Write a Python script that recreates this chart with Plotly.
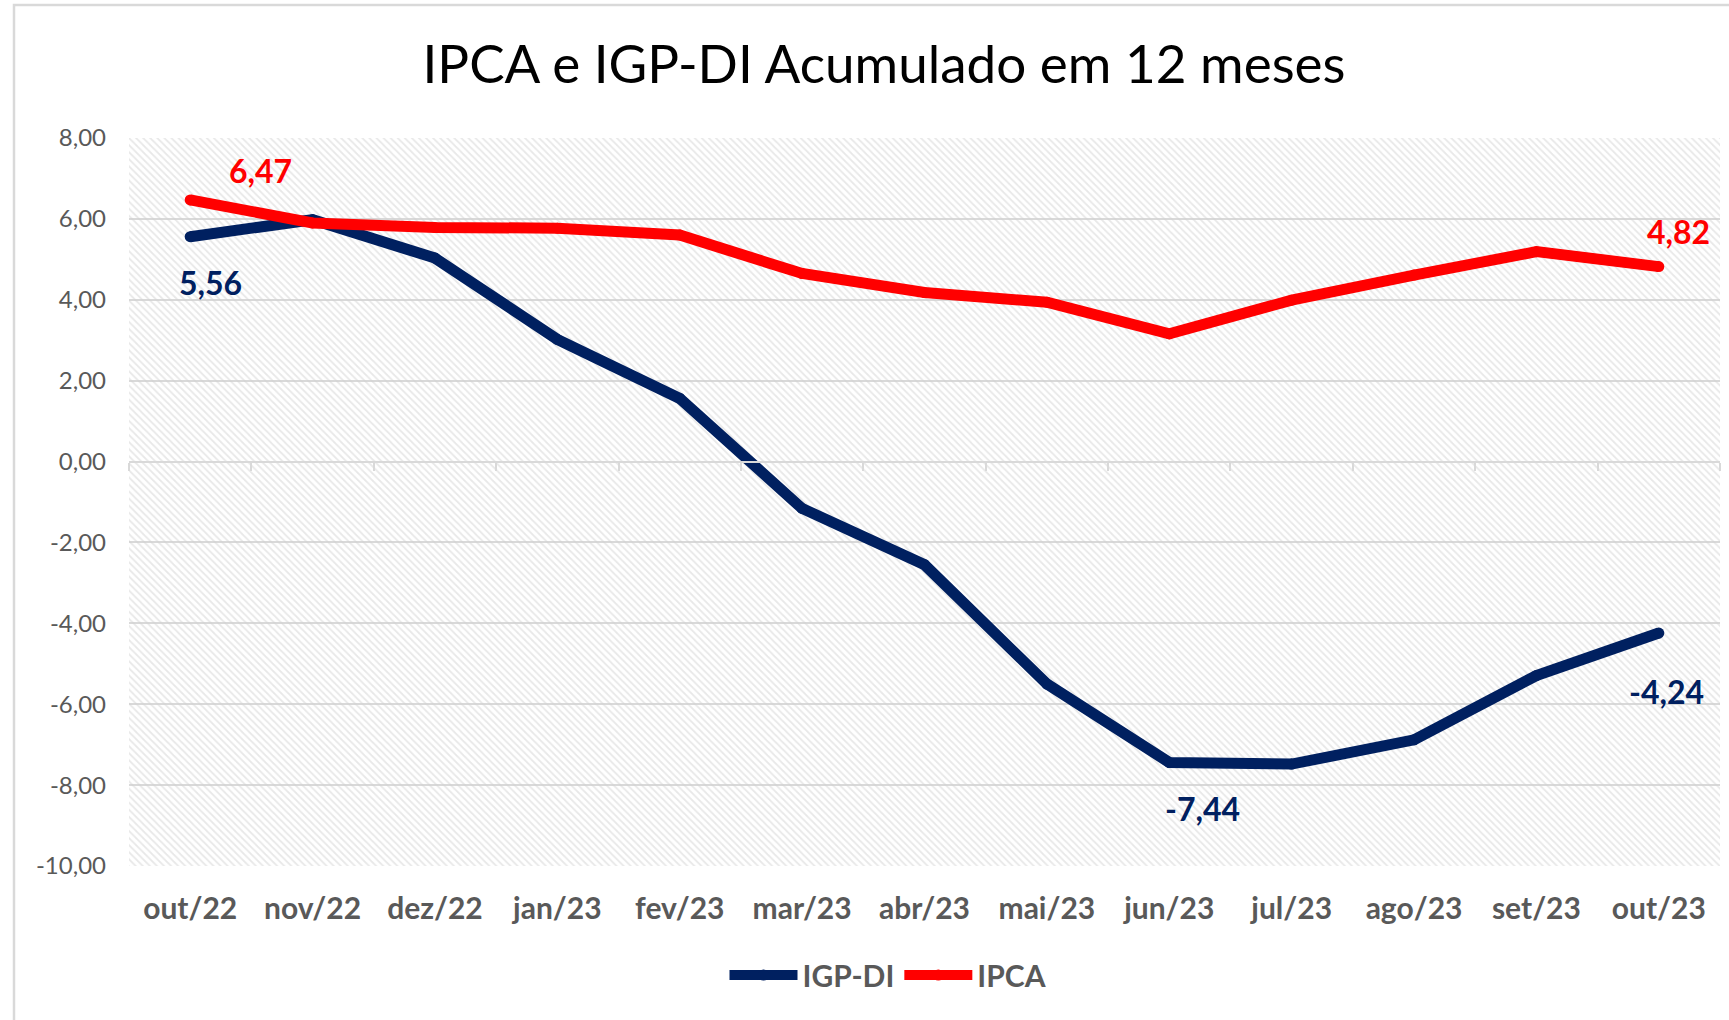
import plotly.graph_objects as go

# ---- data -------------------------------------------------------------
months = ["out/22", "nov/22", "dez/22", "jan/23", "fev/23", "mar/23", "abr/23",
          "mai/23", "jun/23", "jul/23", "ago/23", "set/23", "out/23"]
igp_di = [5.56, 5.98, 5.03, 3.02, 1.56, -1.16, -2.55, -5.50, -7.44, -7.48, -6.88, -5.29, -4.24]
ipca = [6.47, 5.90, 5.79, 5.77, 5.60, 4.65, 4.18, 3.94, 3.16, 3.99, 4.61, 5.19, 4.82]
y_ticks = [8, 6, 4, 2, 0, -2, -4, -6, -8, -10]

# ---- style ------------------------------------------------------------
NAVY = "#002060"
RED = "#FF0000"
GRID = "#d9d9d9"
TEXT = "#595959"
FONT = "Lato"

W, H = 1729, 1020
L, R, T, B = 129, 1720, 138, 866  # plot area in pixels

x_idx = list(range(len(months)))
x_range = [-0.5, len(months) - 0.5]
y_range = [min(y_ticks), max(y_ticks)]


def fmt(v):
    return f"{v:.2f}".replace(".", ",")


def px_to_paper_x(px):
    return (px - L) / (R - L)


def px_to_paper_y(py):
    return (B - py) / (B - T)


fig = go.Figure()

# hatched plot-area background on the base x axis (month labels);
# the series sit on the overlay axis x2, which is drawn on top and
# carries the horizontal axis line at zero
fig.add_trace(go.Scatter(
    x=[x_range[0], x_range[1], x_range[1], x_range[0], x_range[0]],
    y=[y_range[0], y_range[0], y_range[1], y_range[1], y_range[0]],
    mode="lines", fill="toself",
    fillcolor="rgba(0,0,0,0)",
    fillpattern=dict(shape="\\", fgcolor="#d2d2d2", bgcolor="rgba(0,0,0,0)",
                     size=5, solidity=0.35),
    line=dict(width=0), hoverinfo="skip", showlegend=False,
))

LW = 11
fig.add_trace(go.Scatter(
    x=x_idx, y=igp_di, name="IGP-DI", mode="lines+markers", xaxis="x2",
    line=dict(color=NAVY, width=LW),
    marker=dict(color=NAVY, size=LW),
))
fig.add_trace(go.Scatter(
    x=x_idx, y=ipca, name="IPCA", mode="lines+markers", xaxis="x2",
    line=dict(color=RED, width=LW),
    marker=dict(color=RED, size=LW),
))

# value labels (index, series, colour, x shift, y shift)
labels = [
    (0, ipca, RED, 70, 29),
    (0, igp_di, NAVY, 20, -46),
    (12, ipca, RED, 20, 35),
    (12, igp_di, NAVY, 8, -58),
    (8, igp_di, NAVY, 33, -46),
]
for i, series, color, dx, dy in labels:
    fig.add_annotation(
        x=x_idx[i], y=series[i], xref="x2", yref="y",
        text=fmt(series[i]), showarrow=False,
        xshift=dx, yshift=dy,
        font=dict(family=FONT, size=32, color=color, weight="bold"),
    )

# outer chart frame
fig.add_shape(
    type="rect", xref="paper", yref="paper",
    x0=px_to_paper_x(14), x1=px_to_paper_x(W + 20),
    y0=px_to_paper_y(H + 20), y1=px_to_paper_y(5),
    line=dict(color=GRID, width=2.5), fillcolor="rgba(0,0,0,0)", layer="below",
)

fig.update_layout(
    width=W, height=H,
    margin=dict(l=L, r=W - R, t=T, b=H - B),
    paper_bgcolor="white", plot_bgcolor="white",
    title=dict(
        text="IPCA e IGP-DI Acumulado em 12 meses",
        x=884 / W, xref="container", xanchor="center",
        y=1 - 64 / H, yref="container", yanchor="middle",
        font=dict(family=FONT, size=53, color="black"),
    ),
    showlegend=True,
    legend=dict(
        orientation="h", x=px_to_paper_x(888), xanchor="center",
        y=px_to_paper_y(975), yanchor="middle",
        font=dict(family=FONT, size=30, color=TEXT, weight="bold"),
        itemwidth=68, bgcolor="rgba(0,0,0,0)",
    ),
    xaxis=dict(
        range=x_range, tickmode="array", tickvals=x_idx, ticktext=months,
        showgrid=False, zeroline=False, showline=False, ticks="",
        tickfont=dict(family=FONT, size=30, color=TEXT, weight="bold"),
        ticklabelstandoff=22, fixedrange=True,
    ),
    # axis line at zero with boundary tick marks
    xaxis2=dict(
        range=x_range, overlaying="x", anchor="free",
        position=(0 - y_range[0]) / (y_range[1] - y_range[0]),
        tickmode="array", tickvals=[i + 0.5 for i in x_idx[:-1]] + list(x_range),
        showticklabels=False, ticks="outside", ticklen=8, tickwidth=2,
        tickcolor=GRID, showline=True, linecolor=GRID, linewidth=2,
        showgrid=False, zeroline=False, fixedrange=True,
    ),
    yaxis=dict(
        range=y_range, tickmode="array", tickvals=y_ticks,
        ticktext=[fmt(v) for v in y_ticks],
        showgrid=True, gridcolor=GRID, gridwidth=2,
        zeroline=False, showline=False, ticks="",
        tickfont=dict(family=FONT, size=24, color=TEXT),
        ticklabelstandoff=22, fixedrange=True,
    ),
)

fig.write_html("out.html")
